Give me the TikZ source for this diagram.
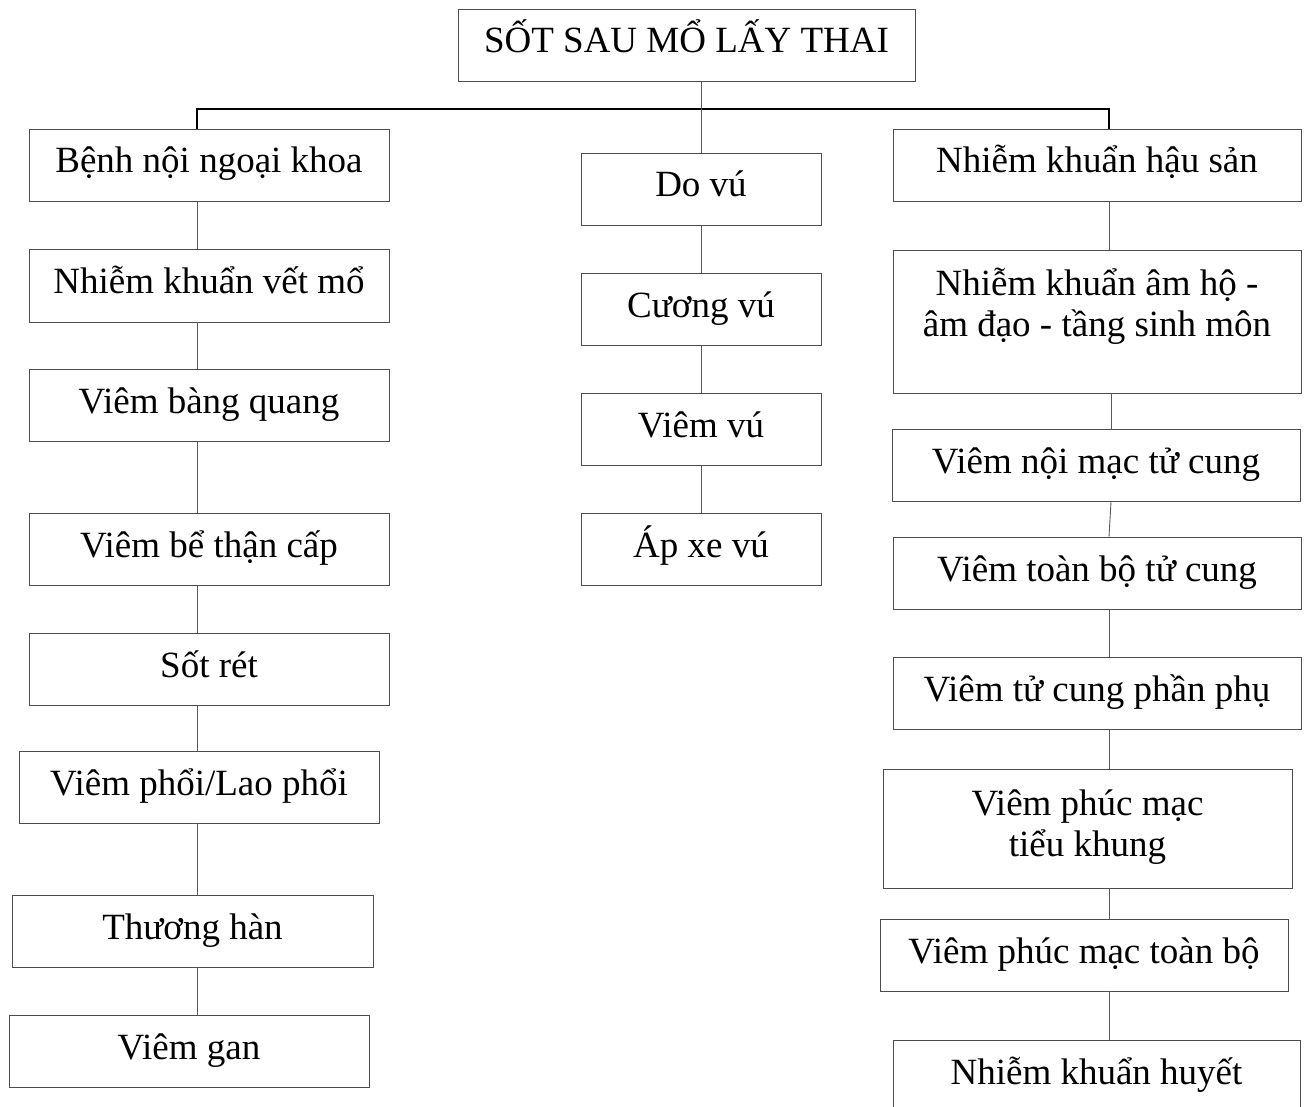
\documentclass[tikz,border=0pt]{standalone}
\usepackage{fontspec}
\setmainfont{Liberation Serif}
\usetikzlibrary{calc}

\begin{document}
\begin{tikzpicture}[x=1pt,y=-1pt,
    box/.style={rectangle,draw=black!70,line width=0.9pt,inner sep=0pt,
      font=\fontsize{37pt}{41pt}\selectfont,align=center,
      text height=26pt,text depth=10pt,minimum height=72pt},
    link/.style={draw=black!65,line width=0.9pt},
    bar/.style={draw=black,line width=1.2pt}]
            % Define the column lines and the bar
            \def\lx{197}   % left column
            \def\mx{701}   % middle column
            \def\rx{1109}  % right column
            \def\by{109}   % horizontal bar

            \useasboundingbox (0,0) rectangle (1306,1107);
            \clip (0,0) rectangle (1306,1107);

            \coordinate (lcol) at (\lx,0);
            \coordinate (mcol) at (\mx,0);
            \coordinate (rcol) at (\rx,0);
            \coordinate (rcolb) at ({\rx+2},0);
            \coordinate (bar) at (0,\by);

            % Draw the top box
            \node[box,minimum width=457pt] (top) at (686.5,45) {SỐT SAU MỔ LẤY THAI};

            % Draw the left column
            \node[box,minimum width=360pt] (benh) at (209,165) {Bệnh nội ngoại khoa};
            \node[box,minimum width=360pt,minimum height=73pt] (vetmo) at (209,285.5) {Nhiễm khuẩn vết mổ};
            \node[box,minimum width=360pt] (bangquang) at (209,405) {Viêm bàng quang};
            \node[box,minimum width=360pt] (bethan) at (209,549) {Viêm bể thận cấp};
            \node[box,minimum width=360pt] (sotret) at (209,669) {Sốt rét};
            \node[box,minimum width=360pt] (viemphoi) at (199,787) {Viêm phổi/Lao phổi};
            \node[box,minimum width=361pt] (thuonghan) at (192.5,931) {Thương hàn};
            \node[box,minimum width=360pt] (viemgan) at (189,1051) {Viêm gan};

            % Draw the middle column
            \node[box,minimum width=240pt] (dovu) at (701,189) {Do vú};
            \node[box,minimum width=240pt] (cuongvu) at (701,309) {Cương vú};
            \node[box,minimum width=240pt] (viemvu) at (701,429) {Viêm vú};
            \node[box,minimum width=240pt] (apxe) at (701,549) {Áp xe vú};

            % Draw the right column
            \node[box,minimum width=408pt] (hausan) at (1097,165) {Nhiễm khuẩn hậu sản};
            \node[box,minimum width=408pt,minimum height=143pt,text height=39pt] (amho) at (1097,321.5) {Nhiễm khuẩn âm hộ -\\âm đạo - tầng sinh môn};
            \node[box,minimum width=408pt] (noimac) at (1096,465.5) {Viêm nội mạc tử cung};
            \node[box,minimum width=408pt] (toanbo) at (1097,573) {Viêm toàn bộ tử cung};
            \node[box,minimum width=408pt] (phanphu) at (1097,693) {Viêm tử cung phần phụ};
            \node[box,minimum width=409pt,minimum height=119pt,text height=65pt] (tieukhung) at (1087.5,828.5) {Viêm phúc mạc\\tiểu khung};
            \node[box,minimum width=408pt] (phucmac) at (1084,955) {Viêm phúc mạc toàn bộ};
            \node[box,minimum width=407pt] (huyet) at (1096.5,1076) {Nhiễm khuẩn huyết};

            % Draw the bar and the branches
            \draw[bar] (benh.north -| lcol) -- (lcol |- bar) -- (rcol |- bar) -- (hausan.north -| rcol);
            \draw[link] (top.south -| mcol) -- (dovu.north -| mcol);

            % Draw the left links
            \draw[link] (benh.south -| lcol) -- (vetmo.north -| lcol);
            \draw[link] (vetmo.south -| lcol) -- (bangquang.north -| lcol);
            \draw[link] (bangquang.south -| lcol) -- (bethan.north -| lcol);
            \draw[link] (bethan.south -| lcol) -- (sotret.north -| lcol);
            \draw[link] (sotret.south -| lcol) -- (viemphoi.north -| lcol);
            \draw[link] (viemphoi.south -| lcol) -- (thuonghan.north -| lcol);
            \draw[link] (thuonghan.south -| lcol) -- (viemgan.north -| lcol);

            % Draw the middle links
            \draw[link] (dovu.south -| mcol) -- (cuongvu.north -| mcol);
            \draw[link] (cuongvu.south -| mcol) -- (viemvu.north -| mcol);
            \draw[link] (viemvu.south -| mcol) -- (apxe.north -| mcol);

            % Draw the right links
            \draw[link] (hausan.south -| rcol) -- (amho.north -| rcol);
            \draw[link] (amho.south -| rcolb) -- (noimac.north -| rcolb);
            \draw[link] (noimac.south -| rcolb) -- (toanbo.north -| rcol);
            \draw[link] (toanbo.south -| rcol) -- (phanphu.north -| rcol);
            \draw[link] (phanphu.south -| rcol) -- (tieukhung.north -| rcol);
            \draw[link] (tieukhung.south -| rcol) -- (phucmac.north -| rcol);
            \draw[link] (phucmac.south -| rcol) -- (huyet.north -| rcol);
        \end{tikzpicture}
\end{document}
